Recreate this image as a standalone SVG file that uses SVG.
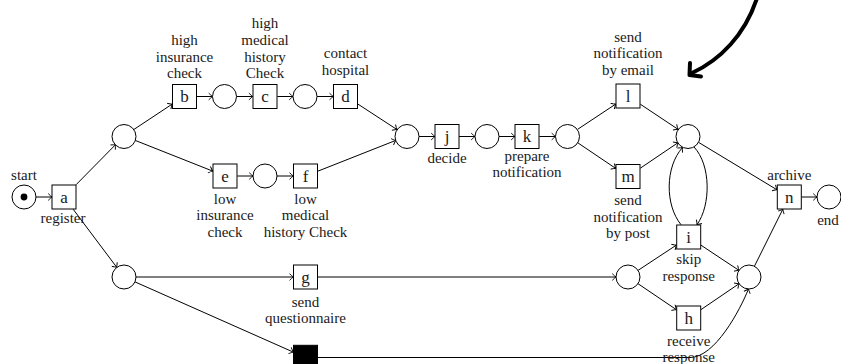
<svg xmlns="http://www.w3.org/2000/svg" width="841" height="364" viewBox="0 0 841 364">
  <style>
    .place { fill: #fff; stroke: #000; stroke-width: 1; }
    .trans { fill: #fff; stroke: #000; stroke-width: 1; }
    .silent { fill: #000; stroke: #000; stroke-width: 1; }
    .arc { fill: none; stroke: #000; stroke-width: 1; marker-end: url(#tip); }
    text { font-family: "Liberation Serif", "DejaVu Serif", serif; font-size: 15px; fill: #1a1a1a; text-anchor: middle; }
    text.id { font-size: 17px; }
  </style>
  <defs>
    <marker id="tip" markerUnits="userSpaceOnUse" markerWidth="10" markerHeight="10" viewBox="-5 -5 10 10" refX="0" refY="0" orient="auto" overflow="visible">
      <path d="M-3.8,-3.4 Q-1.3,-0.9 0,0 Q-1.3,0.9 -3.8,3.4" fill="none" stroke="#000" stroke-width="0.9"/>
    </marker>
  </defs>
  <rect width="841" height="364" fill="#fff"/>

  <!-- connectors -->
  <g id="arcs">
    <path class="arc" d="M36,197 L52,197"/>
    <path class="arc" d="M76.1,184.7 L115.6,144.6"/>
    <path class="arc" d="M73.2,209.3 L116.8,267.4"/>
    <path class="arc" d="M134,129.4 L172.2,104.1"/>
    <path class="arc" d="M135.2,140.4 L212.7,171.1"/>
    <path class="arc" d="M196.7,96.5 L212.5,96.5"/>
    <path class="arc" d="M236.5,96.5 L252.7,96.5"/>
    <path class="arc" d="M277.3,96.5 L293,96.5"/>
    <path class="arc" d="M317,96.5 L333.3,96.5"/>
    <path class="arc" d="M357.8,104 L396.9,129.5"/>
    <path class="arc" d="M237.3,176 L253,176"/>
    <path class="arc" d="M277,176 L293.3,176"/>
    <path class="arc" d="M317.8,171.2 L395.8,140.4"/>
    <path class="arc" d="M419,136.5 L435,136.5"/>
    <path class="arc" d="M459,136.5 L475,136.5"/>
    <path class="arc" d="M499,136.5 L515,136.5"/>
    <path class="arc" d="M539.3,136.5 L555.5,136.5"/>
    <path class="arc" d="M577.5,129.4 L615.7,104.1"/>
    <path class="arc" d="M577.5,142.6 L615.7,168.4"/>
    <path class="arc" d="M640.3,104.2 L678,129.3"/>
    <path class="arc" d="M640.3,168.2 L678,142.7"/>
    <path class="arc" d="M694,147 C711,165 711,205 697,224.7"/>
    <path class="arc" d="M681,224.7 C665,205 665,167 682.5,147.5"/>
    <path class="arc" d="M698.3,142.2 L777,189.8"/>
    <path class="arc" d="M801.3,197 L817,197"/>
    <path class="arc" d="M136,277 L293.3,277"/>
    <path class="arc" d="M317.3,277 L616,277"/>
    <path class="arc" d="M135,281.9 L293.3,352.1"/>
    <path class="arc" d="M638,270.4 L676.4,245.1"/>
    <path class="arc" d="M638,283.7 L676.4,309.7"/>
    <path class="arc" d="M701,245.2 L739,270.4"/>
    <path class="arc" d="M701,309.6 L739.1,283.7"/>
    <path class="arc" d="M754.4,266.3 L782.8,209.3"/>
    <path class="arc" d="M317.8,357.5 L690,357.5 C715,357.5 740,310 748.5,289"/>
  </g>

  <!-- pointer arrow -->
  <g id="pointer" fill="none" stroke="#000" stroke-width="4" stroke-linecap="round" stroke-linejoin="round">
    <path d="M757,-2 C745,35 720,60 692,73"/>
    <path d="M690,63 L689.5,75 L701,76.5"/>
  </g>

  <!-- places -->
  <g id="p-start"><circle class="place" cx="24" cy="197" r="12"/><circle cx="24" cy="197" r="3.4" fill="#000"/><text x="24" y="180">start</text></g>
  <g id="p1"><circle class="place" cx="124" cy="136.5" r="12"/></g>
  <g id="p2"><circle class="place" cx="224.5" cy="96.5" r="12"/></g>
  <g id="p3"><circle class="place" cx="305" cy="96.5" r="12"/></g>
  <g id="p4"><circle class="place" cx="265" cy="176" r="12"/></g>
  <g id="p5"><circle class="place" cx="407" cy="136.5" r="12"/></g>
  <g id="p6"><circle class="place" cx="487" cy="136.5" r="12"/></g>
  <g id="p7"><circle class="place" cx="567.5" cy="136.5" r="12"/></g>
  <g id="p8"><circle class="place" cx="688" cy="136.5" r="12"/></g>
  <g id="p9"><circle class="place" cx="124" cy="277" r="12"/></g>
  <g id="p10"><circle class="place" cx="628" cy="277" r="12"/></g>
  <g id="p11"><circle class="place" cx="749" cy="277" r="12"/></g>
  <g id="p-end"><circle class="place" cx="829" cy="197" r="12"/><text x="828" y="225">end</text></g>

  <!-- transitions -->
  <g id="t-a"><rect class="trans" x="52" y="185" width="24" height="24"/><text class="id" x="64" y="202.5">a</text><text x="63" y="222.5">register</text></g>
  <g id="t-b"><rect class="trans" x="172.5" y="84.5" width="24" height="24"/><text class="id" x="184.5" y="102">b</text>
    <text x="184.5" y="45">high</text><text x="184.5" y="61.7">insurance</text><text x="184.5" y="78.3">check</text></g>
  <g id="t-c"><rect class="trans" x="253" y="84.5" width="24" height="24"/><text class="id" x="265" y="102">c</text>
    <text x="265" y="28.3">high</text><text x="265" y="45">medical</text><text x="265" y="61.7">history</text><text x="265" y="78.3">Check</text></g>
  <g id="t-d"><rect class="trans" x="333.5" y="84.5" width="24" height="24"/><text class="id" x="345.5" y="102">d</text>
    <text x="345.5" y="58.3">contact</text><text x="345.5" y="74.7">hospital</text></g>
  <g id="t-e"><rect class="trans" x="213" y="164" width="24" height="24"/><text class="id" x="225" y="181.5">e</text>
    <text x="225" y="203.5">low</text><text x="225" y="220">insurance</text><text x="225" y="236.7">check</text></g>
  <g id="t-f"><rect class="trans" x="293.5" y="164" width="24" height="24"/><text class="id" x="305.5" y="181.5">f</text>
    <text x="305.5" y="203.5">low</text><text x="305.5" y="220">medical</text><text x="305.5" y="236.7">history Check</text></g>
  <g id="t-j"><rect class="trans" x="435" y="124.5" width="24" height="24"/><text class="id" x="447" y="142">j</text><text x="447" y="163.3">decide</text></g>
  <g id="t-k"><rect class="trans" x="515" y="124.5" width="24" height="24"/><text class="id" x="527" y="142">k</text>
    <text x="527" y="160.8">prepare</text><text x="527" y="177.3">notification</text></g>
  <g id="t-l"><rect class="trans" x="616" y="84" width="24" height="24"/><text class="id" x="628" y="101.5">l</text>
    <text x="628" y="41.7">send</text><text x="628" y="58.3">notification</text><text x="628" y="74.7">by email</text></g>
  <g id="t-m"><rect class="trans" x="616" y="164.5" width="24" height="24"/><text class="id" x="628" y="182">m</text>
    <text x="628" y="205">send</text><text x="628" y="221.7">notification</text><text x="628" y="238.3">by post</text></g>
  <g id="t-i"><rect class="trans" x="676.7" y="225" width="24" height="24"/><text class="id" x="688.7" y="242.5">i</text>
    <text x="688.7" y="264">skip</text><text x="688.7" y="280.7">response</text></g>
  <g id="t-h"><rect class="trans" x="676.7" y="306" width="24" height="24"/><text class="id" x="688.7" y="323.5">h</text>
    <text x="688.7" y="345.5">receive</text><text x="688.7" y="362">response</text></g>
  <g id="t-g"><rect class="trans" x="293.5" y="265" width="24" height="24"/><text class="id" x="305.5" y="282.5">g</text>
    <text x="305.5" y="306.5">send</text><text x="305.5" y="323">questionnaire</text></g>
  <g id="t-n"><rect class="trans" x="777.3" y="185" width="24" height="24"/><text class="id" x="789.3" y="202.5">n</text><text x="789.3" y="180">archive</text></g>
  <g id="t-tau"><rect class="silent" x="293.5" y="345.3" width="24" height="24"/></g>
</svg>
